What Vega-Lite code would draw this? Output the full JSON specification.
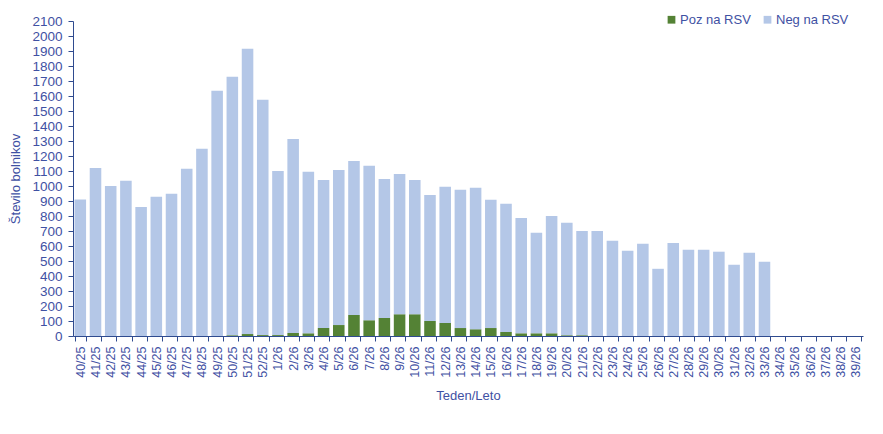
{
  "$schema": "https://vega.github.io/schema/vega-lite/v6.json",
  "width": 790,
  "height": 315,
  "autosize": {"type": "none"},
  "padding": {"left": 73, "top": 21, "right": 20, "bottom": 98},
  "background": "white",
  "config": {
    "view": {"stroke": null},
    "font": "Liberation Sans",
    "axis": {
      "labelFont": "Liberation Sans",
      "titleFont": "Liberation Sans",
      "labelColor": "#3f51a3",
      "titleColor": "#3f51a3",
      "domainColor": "#2f4b8f",
      "tickColor": "#2f4b8f",
      "titleFontWeight": "normal",
      "grid": false
    },
    "legend": {
      "labelFont": "Liberation Sans",
      "labelColor": "#3f51a3"
    }
  },
  "data": {
    "values": [
      {"teden": "40/25", "Poz na RSV": 0, "Neg na RSV": 910},
      {"teden": "41/25", "Poz na RSV": 0, "Neg na RSV": 1120},
      {"teden": "42/25", "Poz na RSV": 0, "Neg na RSV": 1000},
      {"teden": "43/25", "Poz na RSV": 0, "Neg na RSV": 1035},
      {"teden": "44/25", "Poz na RSV": 0, "Neg na RSV": 860},
      {"teden": "45/25", "Poz na RSV": 0, "Neg na RSV": 928},
      {"teden": "46/25", "Poz na RSV": 0, "Neg na RSV": 948},
      {"teden": "47/25", "Poz na RSV": 0, "Neg na RSV": 1115},
      {"teden": "48/25", "Poz na RSV": 0, "Neg na RSV": 1248},
      {"teden": "49/25", "Poz na RSV": 0, "Neg na RSV": 1635},
      {"teden": "50/25", "Poz na RSV": 5, "Neg na RSV": 1723},
      {"teden": "51/25", "Poz na RSV": 13, "Neg na RSV": 1902},
      {"teden": "52/25", "Poz na RSV": 6, "Neg na RSV": 1569},
      {"teden": "1/26", "Poz na RSV": 6, "Neg na RSV": 1094},
      {"teden": "2/26", "Poz na RSV": 20, "Neg na RSV": 1293},
      {"teden": "3/26", "Poz na RSV": 18, "Neg na RSV": 1077},
      {"teden": "4/26", "Poz na RSV": 53, "Neg na RSV": 987},
      {"teden": "5/26", "Poz na RSV": 73, "Neg na RSV": 1034},
      {"teden": "6/26", "Poz na RSV": 140, "Neg na RSV": 1027},
      {"teden": "7/26", "Poz na RSV": 105, "Neg na RSV": 1030},
      {"teden": "8/26", "Poz na RSV": 120, "Neg na RSV": 927},
      {"teden": "9/26", "Poz na RSV": 145, "Neg na RSV": 935},
      {"teden": "10/26", "Poz na RSV": 145, "Neg na RSV": 895},
      {"teden": "11/26", "Poz na RSV": 100, "Neg na RSV": 840},
      {"teden": "12/26", "Poz na RSV": 87, "Neg na RSV": 908},
      {"teden": "13/26", "Poz na RSV": 53, "Neg na RSV": 922},
      {"teden": "14/26", "Poz na RSV": 45, "Neg na RSV": 943},
      {"teden": "15/26", "Poz na RSV": 53, "Neg na RSV": 855},
      {"teden": "16/26", "Poz na RSV": 27, "Neg na RSV": 855},
      {"teden": "17/26", "Poz na RSV": 18, "Neg na RSV": 769},
      {"teden": "18/26", "Poz na RSV": 18, "Neg na RSV": 670},
      {"teden": "19/26", "Poz na RSV": 18, "Neg na RSV": 782},
      {"teden": "20/26", "Poz na RSV": 5, "Neg na RSV": 750},
      {"teden": "21/26", "Poz na RSV": 5, "Neg na RSV": 695},
      {"teden": "22/26", "Poz na RSV": 0, "Neg na RSV": 700},
      {"teden": "23/26", "Poz na RSV": 0, "Neg na RSV": 635},
      {"teden": "24/26", "Poz na RSV": 0, "Neg na RSV": 568},
      {"teden": "25/26", "Poz na RSV": 0, "Neg na RSV": 615},
      {"teden": "26/26", "Poz na RSV": 0, "Neg na RSV": 448},
      {"teden": "27/26", "Poz na RSV": 0, "Neg na RSV": 620},
      {"teden": "28/26", "Poz na RSV": 0, "Neg na RSV": 575},
      {"teden": "29/26", "Poz na RSV": 0, "Neg na RSV": 575},
      {"teden": "30/26", "Poz na RSV": 0, "Neg na RSV": 562},
      {"teden": "31/26", "Poz na RSV": 0, "Neg na RSV": 475},
      {"teden": "32/26", "Poz na RSV": 0, "Neg na RSV": 555},
      {"teden": "33/26", "Poz na RSV": 0, "Neg na RSV": 495},
      {"teden": "34/26", "Poz na RSV": 0, "Neg na RSV": 0},
      {"teden": "35/26", "Poz na RSV": 0, "Neg na RSV": 0},
      {"teden": "36/26", "Poz na RSV": 0, "Neg na RSV": 0},
      {"teden": "37/26", "Poz na RSV": 0, "Neg na RSV": 0},
      {"teden": "38/26", "Poz na RSV": 0, "Neg na RSV": 0},
      {"teden": "39/26", "Poz na RSV": 0, "Neg na RSV": 0}
    ]
  },
  "transform": [
    {"fold": ["Poz na RSV", "Neg na RSV"], "as": ["status", "stevilo"]}
  ],
  "mark": {"type": "bar"},
  "encoding": {
    "x": {
      "field": "teden",
      "type": "nominal",
      "sort": null,
      "scale": {"paddingInner": 0.24, "paddingOuter": 0.1},
      "axis": {
        "title": "Teden/Leto",
        "titleFontSize": 13,
        "titlePadding": 12,
        "labelAngle": -90,
        "labelAlign": "right",
        "labelBaseline": "middle",
        "labelFontSize": 12.5,
        "labelPadding": 5,
        "tickSize": 5,
        "tickBand": "extent",
        "labelOverlap": false
      }
    },
    "y": {
      "field": "stevilo",
      "type": "quantitative",
      "stack": "zero",
      "scale": {"domain": [0, 2100], "nice": false},
      "axis": {
        "title": "Število bolnikov",
        "titleFontSize": 13,
        "titlePadding": 9,
        "format": "d",
        "labelFontSize": 13.5,
        "labelPadding": 6,
        "tickSize": 5,
        "values": [0, 100, 200, 300, 400, 500, 600, 700, 800, 900, 1000, 1100, 1200, 1300, 1400, 1500, 1600, 1700, 1800, 1900, 2000, 2100]
      }
    },
    "color": {
      "field": "status",
      "type": "nominal",
      "scale": {
        "domain": ["Poz na RSV", "Neg na RSV"],
        "range": ["#548235", "#b4c7e7"]
      },
      "legend": {
        "title": null,
        "orient": "none",
        "direction": "horizontal",
        "legendX": 592,
        "legendY": -8,
        "symbolType": "square",
        "symbolSize": 60,
        "symbolStrokeWidth": 0,
        "labelFontSize": 13,
        "labelOffset": 2,
        "columnPadding": 10
      }
    },
    "order": {"field": "status", "sort": "descending"},
    "tooltip": [
      {"field": "teden", "type": "nominal", "title": "Teden/Leto"},
      {"field": "status", "type": "nominal", "title": "Status"},
      {"field": "stevilo", "type": "quantitative", "title": "Število bolnikov"}
    ]
  }
}
